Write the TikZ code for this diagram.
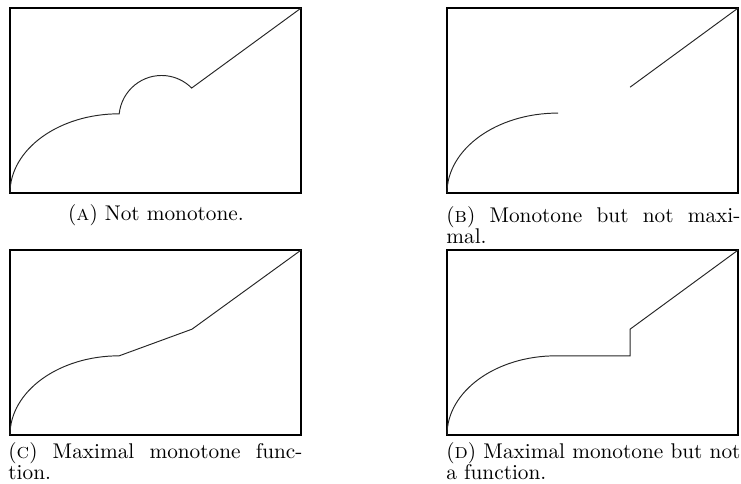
\documentclass[tikz,border=0pt]{standalone}
\begin{document}
\begin{tikzpicture}[x=0.47pt,y=0.47pt,
  frame/.style={line width=0.75pt},
  graph/.style={line width=0.45pt, black!85},
  captext/.style={inner sep=0pt, font=\normalsize},
  panel/.style={x=17.108pt,y=17.39pt}]
\useasboundingbox (0,0) rectangle (741,484);
% Panel A
\begin{scope}[shift={(4.7pt,136.77pt)},panel]
  \draw[frame] (0,0) rectangle (8,5);
  \draw[graph] (0,0) arc[start angle=180,end angle=90,x radius=3,y radius=2.14]
     arc[start angle=174,end angle=45,x radius=1.17,y radius=1.157] -- (8,5);
\end{scope}
% Panel B
\begin{scope}[shift={(210.09pt,136.77pt)},panel]
  \draw[frame] (0,0) rectangle (8,5);
  \draw[graph] (0,0) arc[start angle=180,end angle=90,x radius=3.05,y radius=2.16];
  \draw[graph] (5.03,2.86) -- (8,5);
\end{scope}
% Panel C
\begin{scope}[shift={(4.7pt,23.03pt)},panel]
  \draw[frame] (0,0) rectangle (8,5);
  \draw[graph] (0,0) arc[start angle=180,end angle=90,x radius=3,y radius=2.14]
     -- (5,2.86) -- (8,5);
\end{scope}
% Panel D
\begin{scope}[shift={(210.09pt,23.03pt)},panel]
  \draw[frame] (0,0) rectangle (8,5);
  \draw[graph] (0,0) arc[start angle=180,end angle=90,x radius=3,y radius=2.14]
     -- (5.03,2.14) -- (5.03,2.86) -- (8,5);
\end{scope}
% Captions
\node[captext,anchor=base] (capA) at (156,263) {(\textsc{a}) Not monotone.};
\node[captext,anchor=base west] (capB1) at (446,261) {\makebox[138.2pt][s]{(\textsc{b}) Monotone but not maxi-}};
\node[captext,anchor=base west] (capB2) at (446,240) {mal.};
\node[captext,anchor=base west] (capC1) at (8,25) {\makebox[138.2pt][s]{(\textsc{c}) Maximal monotone func-}};
\node[captext,anchor=base west] (capC2) at (8,4) {tion.};
\node[captext,anchor=base west] (capD1) at (446,25) {\makebox[138.2pt][s]{(\textsc{d}) Maximal monotone but not}};
\node[captext,anchor=base west] (capD2) at (446,4) {a function.};
\end{tikzpicture}
\end{document}
